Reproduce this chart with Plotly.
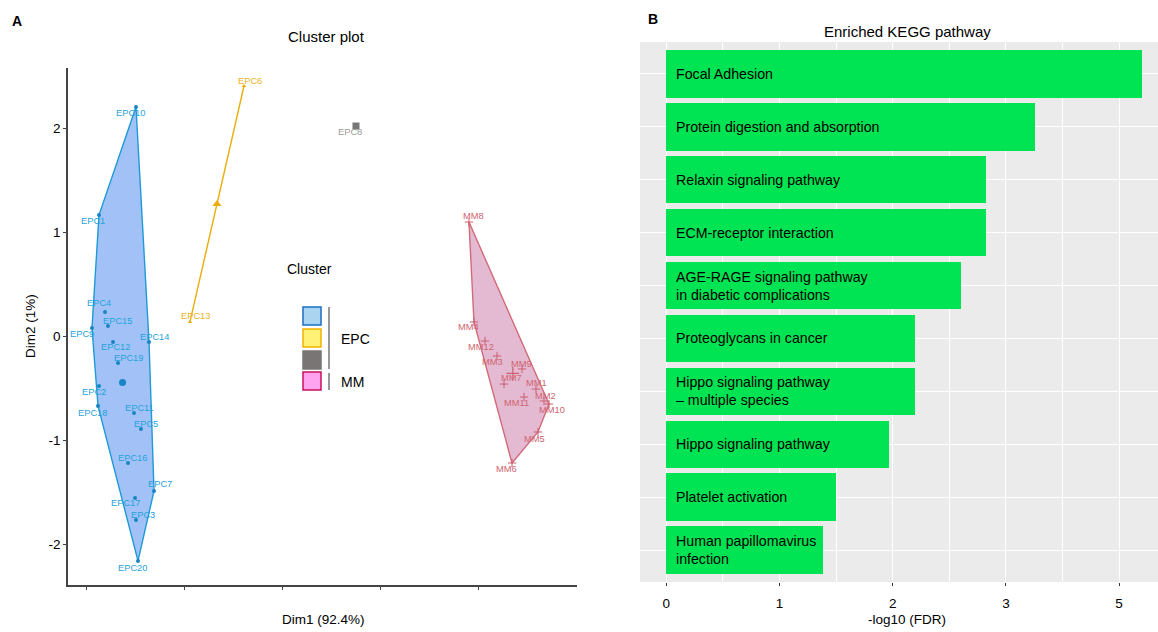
import plotly.graph_objects as go
import numpy as np

W, H = 1158, 632
def px(x): return x / W
def py(y): return 1 - y / H

# ---------------- Panel A data (cluster plot) ----------------
sample_names = ["EPC1", "EPC2", "EPC3", "EPC4", "EPC5", "EPC6", "EPC7", "EPC8", "EPC9", "EPC10",
                "EPC11", "EPC12", "EPC13", "EPC14", "EPC15", "EPC16", "EPC17", "EPC18", "EPC19", "EPC20",
                "MM1", "MM2", "MM3", "MM4", "MM5", "MM6", "MM7", "MM8", "MM9", "MM10", "MM11", "MM12"]
dim1 = [-1.735, -1.735, -0.980, -1.612, -0.878, 1.224, -0.612, 3.510, -1.878, -0.980,
        -1.020, -1.449, 0.122, -0.714, -1.551, -1.143, -1.000, -1.755, -1.347, -0.939,
        7.184, 7.347, 6.388, 5.918, 7.224, 6.694, 6.531, 5.816, 6.898, 7.449, 6.939, 6.143]
dim2 = [1.163, -0.481, -1.769, 0.231, -0.894, 2.404, -1.490, 2.019, 0.077, 2.202,
        -0.740, -0.058, 0.135, -0.058, 0.096, -1.221, -1.558, -0.673, -0.260, -2.163,
        -0.510, -0.625, -0.192, 0.135, -0.923, -1.221, -0.462, 1.096, -0.317, -0.654, -0.587, -0.048]
cluster_id = [1, 1, 1, 1, 1, 2, 1, 3, 1, 1,
              1, 1, 2, 1, 1, 1, 1, 1, 1, 1,
              4, 4, 4, 4, 4, 4, 4, 4, 4, 4, 4, 4]
# label offsets (pixels, right / down) mimicking the repelled labels
label_dx = [-6, -5, 7, -6, 5, 6, 6, -6, -10, -5,
            5, 2, 6, 5, 9, 5, -10, -6, 10, -5,
            0, 1, -5, -5, -3, -6, 7, 5, -1, 3, -8, -4]
label_dy = [6, 6, -5, -9, -5, -5, -7, 6, 6, 6,
            -5, 5, -6, -5, -5, -5, 5, 7, -5, 7,
            -6, -5, 6, 5, 7, 6, -6, -6, -5, 6, 6, 6]

x_ticks_a = [-2, 0, 2, 4, 6]
y_ticks_a = [-2, -1, 0, 1, 2]

# ---------------- Panel B data (KEGG) ----------------
pathways = ["Focal Adhesion",
            "Protein digestion and absorption",
            "Relaxin signaling pathway",
            "ECM-receptor interaction",
            "AGE-RAGE signaling pathway<br>in diabetic complications",
            "Proteoglycans in cancer",
            "Hippo signaling pathway<br>– multiple species",
            "Hippo signaling pathway",
            "Platelet activation",
            "Human papillomavirus<br>infection"]
neglog10_fdr = [4.20, 3.26, 2.82, 2.82, 2.60, 2.20, 2.20, 1.97, 1.495, 1.38]
x_tickvals_b = [0, 1, 2, 3, 4]
x_ticktext_b = ["0", "1", "2", "3", "5"]

# ---------------- styles ----------------
FONT = "Liberation Sans, Arial, sans-serif"
styles = {
    1: dict(line="#1E9AD6", fill="rgba(110,160,242,0.64)", marker="#1585C4", text="#1FA2DA",
            symbol="circle", size=4, csize=7),
    2: dict(line="#E9AE0C", fill=None, marker="#E9AE0C", text="#EBB21A",
            symbol="triangle-up", size=4, csize=8),
    3: dict(line="#777777", fill=None, marker="#777777", text="#9A9A9A",
            symbol="square", size=6, csize=7),
    4: dict(line="#D26A78", fill="rgba(205,130,175,0.55)", marker="#CC5E6D", text="#D0646F",
            symbol="cross-thin", size=6, csize=9),
}

def convex_hull(points):
    pts = sorted(set(points))
    if len(pts) <= 2:
        return pts
    def cross(o, a, b):
        return (a[0]-o[0])*(b[1]-o[1]) - (a[1]-o[1])*(b[0]-o[0])
    lower, upper = [], []
    for p in pts:
        while len(lower) >= 2 and cross(lower[-2], lower[-1], p) <= 0:
            lower.pop()
        lower.append(p)
    for p in reversed(pts):
        while len(upper) >= 2 and cross(upper[-2], upper[-1], p) <= 0:
            upper.pop()
        upper.append(p)
    return lower[:-1] + upper[:-1]

fig = go.Figure()
annotations = []

for c in [1, 2, 3, 4]:
    st = styles[c]
    idx = [i for i, k in enumerate(cluster_id) if k == c]
    xs = [dim1[i] for i in idx]
    ys = [dim2[i] for i in idx]
    hull = convex_hull(list(zip(xs, ys)))
    if len(hull) >= 3:
        hx = [p[0] for p in hull] + [hull[0][0]]
        hy = [p[1] for p in hull] + [hull[0][1]]
        fig.add_trace(go.Scatter(x=hx, y=hy, mode="lines", fill="toself", fillcolor=st["fill"],
                                 line=dict(color=st["line"], width=1.4), hoverinfo="skip",
                                 showlegend=False, xaxis="x", yaxis="y"))
    elif len(hull) == 2:
        fig.add_trace(go.Scatter(x=[p[0] for p in hull], y=[p[1] for p in hull], mode="lines",
                                 line=dict(color=st["line"], width=1.4), hoverinfo="skip",
                                 showlegend=False, xaxis="x", yaxis="y"))
    mk = dict(symbol=st["symbol"], size=st["size"], color=st["marker"])
    if st["symbol"] == "cross-thin":
        mk["line"] = dict(width=1, color=st["marker"])
    fig.add_trace(go.Scatter(x=xs, y=ys, mode="markers", marker=mk, showlegend=False,
                             xaxis="x", yaxis="y", text=[sample_names[i] for i in idx]))
    cmk = dict(symbol=st["symbol"], size=st["csize"], color=st["marker"])
    if st["symbol"] == "cross-thin":
        cmk["line"] = dict(width=1.2, color=st["marker"])
    fig.add_trace(go.Scatter(x=[float(np.mean(xs))], y=[float(np.mean(ys))], mode="markers",
                             marker=cmk, showlegend=False, xaxis="x", yaxis="y"))
    for i in idx:
        annotations.append(dict(x=dim1[i], y=dim2[i], xref="x", yref="y", text=sample_names[i],
                                showarrow=False, xshift=label_dx[i], yshift=-label_dy[i],
                                font=dict(family=FONT, size=9.3, color=st["text"])))

# ---------------- Panel B bars ----------------
ypos = list(range(len(pathways)))
fig.add_trace(go.Bar(x=neglog10_fdr, y=ypos, orientation="h", width=0.9,
                     marker=dict(color="#00E352", line=dict(width=0)),
                     showlegend=False, xaxis="x2", yaxis="y2", hoverinfo="x"))
for p, yv in zip(pathways, ypos):
    annotations.append(dict(x=0, y=yv, xref="x2", yref="y2", text=p, showarrow=False,
                            xanchor="left", yanchor="middle", align="left", xshift=8,
                            font=dict(family=FONT, size=14.2, color="black")))

# ---------------- layout ----------------
ax_a_x0, ax_a_x1 = 68, 577
ax_a_ytop, ax_a_ybot = 68, 585
def xa(pxv): return (pxv - 86) / 49.0 - 2
def ya(pyv): return (336 - pyv) / 104.0

b_x0, b_x1, b_top, b_bot = 640, 1158, 42, 582

shapes = [
    # panel B grey background
    dict(type="rect", xref="x2 domain", yref="y2 domain", x0=0, x1=1, y0=0, y1=1,
         fillcolor="#EBEBEB", line=dict(width=0), layer="below"),
]
# Legend of panel A (drawn manually)
leg = [(307, 325, "#ABD4F0", "#1B6FC2"), (329, 347, "#FFF176", "#F2B200"),
       (351, 369, "#787574", "#787574"), (372, 390, "#FFA3F0", "#C8125C")]
for y0, y1, fc, lc in leg:
    shapes.append(dict(type="rect", xref="paper", yref="paper", x0=px(303), x1=px(321),
                       y0=py(y1), y1=py(y0), fillcolor=fc, line=dict(color=lc, width=1.5)))
shapes.append(dict(type="line", xref="paper", yref="paper", x0=px(329), x1=px(329),
                   y0=py(307), y1=py(369), line=dict(color="#333333", width=1)))
shapes.append(dict(type="line", xref="paper", yref="paper", x0=px(329), x1=px(329),
                   y0=py(373), y1=py(390), line=dict(color="#333333", width=1)))

def ptext(x, y, t, size=13, bold=False, xanchor="center", angle=0):
    return dict(x=px(x), y=py(y), xref="paper", yref="paper", text=("<b>%s</b>" % t) if bold else t,
                showarrow=False, xanchor=xanchor, yanchor="middle", textangle=angle,
                font=dict(family=FONT, size=size, color="black"))

annotations += [
    ptext(17, 21, "A", 14, bold=True),
    ptext(326, 37, "Cluster plot", 15),
    ptext(323, 619, "Dim1 (92.4%)", 13.5),
    ptext(30, 326, "Dim2 (1%)", 13.5, angle=-90),
    ptext(309, 269, "Cluster", 14),
    ptext(339, 339, "EPC", 14, xanchor="left"),
    ptext(339, 382, "MM", 14, xanchor="left"),
    ptext(653, 19, "B", 14, bold=True),
    ptext(907, 31, "Enriched KEGG pathway", 15),
    ptext(907, 619, "-log10 (FDR)", 13.5),
]

fig.update_layout(
    width=W, height=H, margin=dict(l=0, r=0, t=0, b=0),
    paper_bgcolor="white", plot_bgcolor="rgba(0,0,0,0)",
    font=dict(family=FONT, size=13, color="black"),
    showlegend=False, bargap=0,
    xaxis=dict(domain=[px(ax_a_x0), px(ax_a_x1)], range=[xa(ax_a_x0), xa(ax_a_x1)],
               showgrid=False, zeroline=False, showline=True, linecolor="#444444", linewidth=1.5,
               ticks="outside", ticklen=3, tickcolor="#444444", tickvals=x_ticks_a,
               showticklabels=False),
    yaxis=dict(domain=[py(ax_a_ybot), py(ax_a_ytop)], range=[ya(ax_a_ybot), ya(ax_a_ytop)],
               showgrid=False, zeroline=False, showline=True, linecolor="#444444", linewidth=1.5,
               ticks="outside", ticklen=3, tickcolor="#444444", tickvals=y_ticks_a,
               ticktext=[str(v) for v in y_ticks_a], tickfont=dict(size=13.5, color="black")),
    xaxis2=dict(domain=[px(b_x0), px(b_x1)], range=[(b_x0 - 666.3) / 113.2, (b_x1 - 666.3) / 113.2],
                anchor="y2", showgrid=True, gridcolor="white", gridwidth=1.3, zeroline=False,
                showline=False, ticks="outside", ticklen=3, tickcolor="#333333",
                tickvals=x_tickvals_b, ticktext=x_ticktext_b, tickfont=dict(size=13.5, color="black"),
                ticklabelstandoff=6,
                minor=dict(tickvals=[0.5, 1.5, 2.5, 3.5], showgrid=True, gridcolor="white",
                           gridwidth=0.6, ticks="")),
    yaxis2=dict(domain=[py(b_bot), py(b_top)], range=[len(pathways) - 0.4, -0.6], anchor="x2",
                showgrid=True, gridcolor="white", gridwidth=1.3, zeroline=False, showline=False,
                tickvals=ypos, showticklabels=False, ticks=""),
    shapes=shapes, annotations=annotations,
)

fig.write_html("out.html", config={"displayModeBar": False},
               post_script="document.body.style.margin='0';document.body.style.overflow='hidden';")
